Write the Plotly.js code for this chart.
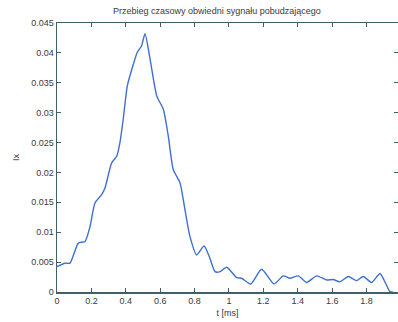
<!DOCTYPE html>
<html>
<head>
<meta charset="utf-8">
<script src="https://cdn.plot.ly/plotly-3.0.1.min.js"></script>
<style>html,body{margin:0;padding:0;background:#fff;}#chart{width:398px;height:322px;}</style>
</head>
<body>
<div id="chart"></div>
<script>
var timeMs = [0, 0.0465, 0.0756, 0.124, 0.163, 0.192, 0.221, 0.260, 0.279, 0.318, 0.347, 0.366, 0.385, 0.409, 0.444, 0.467, 0.492, 0.512, 0.541, 0.580, 0.618, 0.647, 0.676, 0.715, 0.744, 0.773, 0.812, 0.855, 0.886, 0.919, 0.948, 0.987, 1.045, 1.074, 1.126, 1.190, 1.262, 1.316, 1.355, 1.403, 1.452, 1.510, 1.568, 1.606, 1.645, 1.694, 1.742, 1.781, 1.830, 1.878, 1.907, 1.936, 1.953];
var envelope = [0.00425, 0.00482, 0.00482, 0.00818, 0.00845, 0.01096, 0.0149, 0.0163, 0.0174, 0.0216, 0.0227, 0.0250, 0.0289, 0.0345, 0.0381, 0.0401, 0.0412, 0.0432, 0.0390, 0.0328, 0.0306, 0.0261, 0.0205, 0.0183, 0.0138, 0.0093, 0.0062, 0.0077, 0.0059, 0.0034, 0.0034, 0.00415, 0.0024, 0.0023, 0.00134, 0.0038, 0.00134, 0.0027, 0.0023, 0.0027, 0.0016, 0.0027, 0.0020, 0.0021, 0.0017, 0.0026, 0.0019, 0.0026, 0.0016, 0.0031, 0.0017, 0.00005, 0];
var xTickVals = [0, 0.2, 0.4, 0.6, 0.8, 1, 1.2, 1.4, 1.6, 1.8];
var xTickText = ['0', '0.2', '0.4', '0.6', '0.8', '1', '1.2', '1.4', '1.6', '1.8'];
var yTickVals = [0, 0.005, 0.01, 0.015, 0.02, 0.025, 0.03, 0.035, 0.04, 0.045];
var yTickText = ['0', '0.005', '0.01', '0.015', '0.02', '0.025', '0.03', '0.035', '0.04', '0.045'];

var axisColor = '#3f5f6a';
var textColor = '#3a3a3a';

var trace = {
  x: timeMs, y: envelope, type: 'scatter', mode: 'lines',
  line: {color: '#3f6fd0', width: 1.4, shape: 'spline', smoothing: 0.6},
  hoverinfo: 'skip'
};

var layout = {
  width: 398, height: 322,
  margin: {l: 57, r: 0, t: 23, b: 30},
  paper_bgcolor: '#fff', plot_bgcolor: '#fff',
  showlegend: false,
  font: {family: 'Liberation Sans, Arial, sans-serif', size: 9, color: textColor},
  title: {text: 'Przebieg czasowy obwiedni sygnału pobudzającego', x: 0.545, xanchor: 'center', y: 0.975, yanchor: 'top', font: {size: 9, color: textColor}},
  xaxis: {
    range: [0, 1.983], tickvals: xTickVals, ticktext: xTickText,
    ticks: 'inside', ticklen: 4, tickcolor: axisColor, tickwidth: 1,
    showline: true, linecolor: axisColor, linewidth: 1.5, mirror: 'ticks',
    showgrid: false, zeroline: false,
    title: {text: 't [ms]', standoff: 4, font: {size: 9, color: textColor}},
    tickfont: {size: 9, color: textColor}
  },
  yaxis: {
    range: [0, 0.045], tickvals: yTickVals, ticktext: yTickText,
    ticks: 'inside', ticklen: 4, tickcolor: axisColor, tickwidth: 1,
    showline: true, linecolor: axisColor, linewidth: 1.5, mirror: 'ticks',
    showgrid: false, zeroline: false,
    title: {text: 'Ix', standoff: 10, font: {size: 9, color: textColor}},
    tickfont: {size: 9, color: textColor}
  }
};

Plotly.newPlot('chart', [trace], layout, {staticPlot: true, displayModeBar: false});
</script>
</body>
</html>
